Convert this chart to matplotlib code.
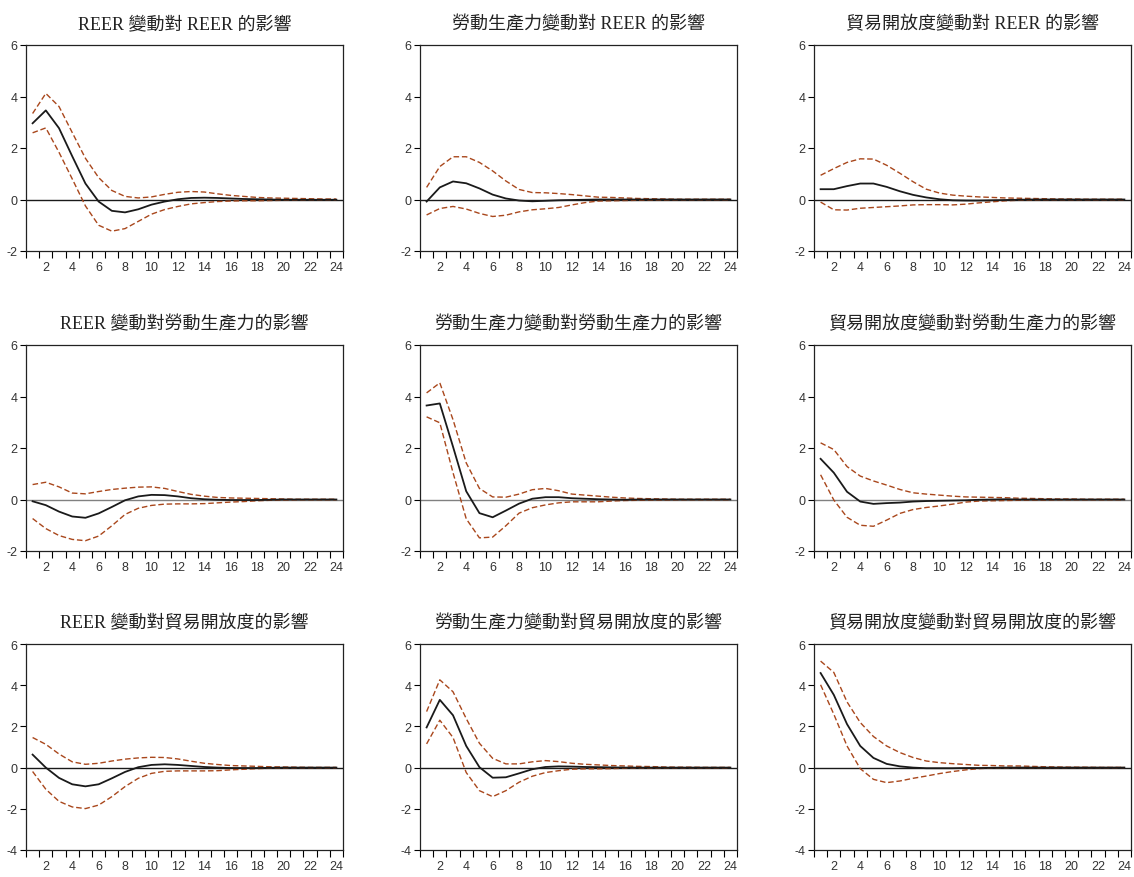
import matplotlib
matplotlib.use("Agg")
import matplotlib.pyplot as plt
import numpy as np

periods = list(range(1, 25))

titles = [
    "REER 變動對 REER 的影響", "勞動生產力變動對 REER 的影響", "貿易開放度變動對 REER 的影響",
    "REER 變動對勞動生產力的影響", "勞動生產力變動對勞動生產力的影響", "貿易開放度變動對勞動生產力的影響",
    "REER 變動對貿易開放度的影響", "勞動生產力變動對貿易開放度的影響", "貿易開放度變動對貿易開放度的影響",
]

# Panel 1: REER -> REER
p1_mid = [2.96, 3.46, 2.77, 1.68, 0.62, -0.08, -0.44, -0.50, -0.38, -0.20, -0.08, 0.01,
          0.06, 0.07, 0.06, 0.04, 0.02, 0.01, 0.0, -0.01, -0.01, -0.01, -0.01, -0.01]
p1_up = [3.34, 4.12, 3.61, 2.60, 1.60, 0.85, 0.35, 0.12, 0.06, 0.10, 0.20, 0.28,
         0.31, 0.29, 0.22, 0.16, 0.12, 0.08, 0.06, 0.05, 0.04, 0.03, 0.02, 0.02]
p1_lo = [2.59, 2.78, 1.83, 0.80, -0.25, -1.00, -1.23, -1.13, -0.85, -0.57, -0.39, -0.27,
         -0.17, -0.12, -0.08, -0.06, -0.05, -0.05, -0.04, -0.03, -0.03, -0.02, -0.02, -0.02]

# Panel 2: 勞動生產力 -> REER
p2_mid = [-0.08, 0.47, 0.70, 0.63, 0.43, 0.19, 0.04, -0.04, -0.07, -0.05, -0.03, -0.02,
          -0.01, 0.0, 0.0, 0.0, 0.0, 0.0, 0.0, 0.0, 0.0, 0.0, 0.0, 0.0]
p2_up = [0.47, 1.28, 1.66, 1.66, 1.44, 1.11, 0.72, 0.39, 0.27, 0.26, 0.23, 0.19,
         0.14, 0.09, 0.08, 0.06, 0.04, 0.03, 0.02, 0.01, 0.01, 0.01, 0.01, 0.01]
p2_lo = [-0.60, -0.35, -0.27, -0.37, -0.54, -0.66, -0.61, -0.48, -0.40, -0.36, -0.31, -0.21,
         -0.12, -0.06, -0.05, -0.04, -0.03, -0.02, -0.02, -0.01, -0.01, -0.01, -0.01, -0.01]

# Panel 3: 貿易開放度 -> REER
p3_mid = [0.40, 0.40, 0.52, 0.62, 0.62, 0.49, 0.32, 0.18, 0.08, 0.01, -0.03, -0.04,
          -0.04, -0.03, -0.02, -0.01, 0.0, 0.0, 0.0, 0.0, 0.0, 0.0, 0.0, 0.0]
p3_up = [0.94, 1.20, 1.44, 1.58, 1.57, 1.33, 1.02, 0.69, 0.40, 0.25, 0.17, 0.13,
         0.10, 0.08, 0.06, 0.05, 0.04, 0.03, 0.02, 0.02, 0.01, 0.01, 0.01, 0.01]
p3_lo = [-0.10, -0.40, -0.41, -0.34, -0.31, -0.28, -0.25, -0.21, -0.20, -0.20, -0.21, -0.18,
         -0.13, -0.09, -0.05, -0.03, -0.02, -0.01, -0.01, -0.01, -0.01, -0.01, -0.01, -0.01]

# Panel 4: REER -> 勞動生產力
p4_mid = [-0.07, -0.22, -0.47, -0.66, -0.71, -0.54, -0.29, -0.03, 0.12, 0.18, 0.17, 0.12,
          0.05, 0.01, -0.01, -0.02, -0.02, -0.02, -0.01, 0.0, 0.0, 0.0, 0.0, 0.0]
p4_up = [0.58, 0.67, 0.49, 0.25, 0.22, 0.31, 0.39, 0.44, 0.48, 0.49, 0.43, 0.31,
         0.20, 0.13, 0.08, 0.06, 0.05, 0.04, 0.03, 0.02, 0.01, 0.01, 0.01, 0.01]
p4_lo = [-0.74, -1.13, -1.40, -1.55, -1.60, -1.42, -1.02, -0.58, -0.34, -0.23, -0.18, -0.17,
         -0.17, -0.16, -0.13, -0.10, -0.08, -0.05, -0.03, -0.02, -0.01, -0.01, -0.01, -0.01]

# Panel 5: 勞動生產力 -> 勞動生產力
p5_mid = [3.65, 3.73, 2.05, 0.32, -0.53, -0.69, -0.43, -0.16, 0.03, 0.09, 0.09, 0.05,
          0.03, 0.01, 0.0, -0.01, 0.0, 0.0, 0.0, 0.0, 0.0, 0.0, 0.0, 0.0]
p5_up = [4.14, 4.53, 3.10, 1.42, 0.43, 0.10, 0.09, 0.21, 0.38, 0.43, 0.34, 0.21,
         0.17, 0.13, 0.09, 0.06, 0.04, 0.03, 0.02, 0.01, 0.01, 0.01, 0.01, 0.01]
p5_lo = [3.21, 2.98, 1.04, -0.75, -1.49, -1.46, -1.02, -0.53, -0.32, -0.21, -0.13, -0.09,
         -0.09, -0.09, -0.06, -0.04, -0.03, -0.02, -0.02, -0.01, -0.01, -0.01, -0.01, -0.01]

# Panel 6: 貿易開放度 -> 勞動生產力
p6_mid = [1.58, 1.04, 0.30, -0.08, -0.17, -0.14, -0.12, -0.08, -0.06, -0.05, -0.04, -0.03,
          -0.01, 0.0, 0.01, 0.0, 0.0, 0.0, 0.0, 0.0, 0.0, 0.0, 0.0, 0.0]
p6_up = [2.20, 1.94, 1.28, 0.91, 0.72, 0.56, 0.39, 0.26, 0.21, 0.17, 0.13, 0.10,
         0.09, 0.08, 0.07, 0.05, 0.04, 0.03, 0.02, 0.02, 0.01, 0.01, 0.01, 0.01]
p6_lo = [0.96, -0.02, -0.69, -1.00, -1.04, -0.80, -0.54, -0.39, -0.31, -0.25, -0.18, -0.10,
         -0.06, -0.05, -0.04, -0.03, -0.02, -0.02, -0.01, -0.01, -0.01, -0.01, -0.01, -0.01]

# Panel 7: REER -> 貿易開放度
p7_mid = [0.63, 0.0, -0.50, -0.81, -0.91, -0.81, -0.52, -0.21, 0.02, 0.13, 0.16, 0.13,
          0.08, 0.03, 0.0, -0.02, -0.02, -0.02, -0.01, 0.0, 0.0, 0.0, 0.0, 0.0]
p7_up = [1.46, 1.13, 0.66, 0.28, 0.16, 0.21, 0.32, 0.41, 0.47, 0.50, 0.49, 0.42,
         0.31, 0.21, 0.15, 0.10, 0.08, 0.06, 0.04, 0.03, 0.02, 0.01, 0.01, 0.01]
p7_lo = [-0.19, -1.05, -1.64, -1.91, -1.99, -1.82, -1.41, -0.92, -0.52, -0.28, -0.18, -0.16,
         -0.16, -0.16, -0.15, -0.11, -0.08, -0.05, -0.03, -0.02, -0.01, -0.01, -0.01, -0.01]

# Panel 8: 勞動生產力 -> 貿易開放度
p8_mid = [1.95, 3.29, 2.54, 1.05, 0.02, -0.49, -0.47, -0.28, -0.08, 0.03, 0.06, 0.05,
          0.03, 0.02, 0.01, 0.0, 0.0, 0.0, 0.0, 0.0, 0.0, 0.0, 0.0, 0.0]
p8_up = [2.72, 4.26, 3.68, 2.38, 1.18, 0.45, 0.18, 0.18, 0.28, 0.34, 0.29, 0.21,
         0.16, 0.13, 0.10, 0.08, 0.06, 0.05, 0.03, 0.02, 0.02, 0.01, 0.01, 0.01]
p8_lo = [1.15, 2.30, 1.46, -0.24, -1.12, -1.41, -1.12, -0.71, -0.42, -0.24, -0.15, -0.08,
         -0.06, -0.06, -0.05, -0.03, -0.02, -0.02, -0.01, -0.01, -0.01, -0.01, -0.01, -0.01]

# Panel 9: 貿易開放度 -> 貿易開放度
p9_mid = [4.59, 3.53, 2.11, 1.05, 0.47, 0.18, 0.06, 0.0, -0.03, -0.03, -0.03, -0.02,
          -0.02, -0.01, 0.0, 0.0, 0.0, 0.0, 0.0, 0.0, 0.0, 0.0, 0.0, 0.0]
p9_up = [5.17, 4.62, 3.19, 2.19, 1.51, 1.05, 0.73, 0.49, 0.32, 0.24, 0.19, 0.15,
         0.11, 0.10, 0.08, 0.08, 0.06, 0.04, 0.03, 0.02, 0.02, 0.01, 0.01, 0.01]
p9_lo = [4.02, 2.59, 1.05, -0.05, -0.57, -0.73, -0.65, -0.52, -0.41, -0.29, -0.19, -0.11,
         -0.05, -0.02, -0.01, 0.0, 0.0, 0.0, 0.0, 0.0, 0.0, 0.0, 0.0, 0.0]

mids = [p1_mid, p2_mid, p3_mid, p4_mid, p5_mid, p6_mid, p7_mid, p8_mid, p9_mid]
ups = [p1_up, p2_up, p3_up, p4_up, p5_up, p6_up, p7_up, p8_up, p9_up]
los = [p1_lo, p2_lo, p3_lo, p4_lo, p5_lo, p6_lo, p7_lo, p8_lo, p9_lo]

row_ylims = [(-2, 6), (-2, 6), (-4, 6)]
row_yticks = [[-2, 0, 2, 4, 6], [-2, 0, 2, 4, 6], [-4, -2, 0, 2, 4, 6]]
zero_colors = ["#1a1a1a", "#808080", "#1a1a1a"]

W, H = 1134, 878
fig = plt.figure(figsize=(W / 100, H / 100), dpi=100)

col_lr = [(26, 343), (420, 737), (814, 1131)]
row_tb = [(46, 252), (346, 552), (645, 851)]

title_font = ["Liberation Serif", "Noto Sans CJK TC"]
dash_color = "#a9471c"

for i in range(9):
    r, c = divmod(i, 3)
    l, rr = col_lr[c]
    t, b = row_tb[r]
    ax = fig.add_axes([l / W, 1 - b / H, (rr - l) / W, (b - t) / H])
    ax.axhline(0, color=zero_colors[r], lw=1.0, zorder=1)
    ax.plot(periods, ups[i], color=dash_color, lw=1.0, ls=(0, (4, 2)), zorder=2)
    ax.plot(periods, los[i], color=dash_color, lw=1.0, ls=(0, (4, 2)), zorder=2)
    ax.plot(periods, mids[i], color="#1a1a1a", lw=1.3, zorder=3)
    ax.set_xlim(0.5, 24.5)
    ax.set_ylim(*row_ylims[r])
    ax.set_yticks(row_yticks[r])
    ax.set_yticklabels([str(v) for v in row_yticks[r]], fontsize=9, family="Liberation Sans", color="#333333")
    ax.set_xticks(np.arange(0.5, 25, 1.0))
    ax.set_xticklabels([])
    ax.set_xticks(list(range(2, 25, 2)), minor=True)
    ax.set_xticklabels([str(v) for v in range(2, 25, 2)], minor=True, fontsize=9,
                       family="Liberation Sans", color="#333333")
    ax.tick_params(axis="x", which="major", direction="out", length=5, width=0.8)
    ax.tick_params(axis="x", which="minor", length=0, pad=7)
    ax.tick_params(axis="y", direction="out", length=4, width=0.8, pad=2)
    for s in ax.spines.values():
        s.set_linewidth(0.9)
        s.set_color("#222222")
    ax.set_title(titles[i], family=title_font, fontsize=13, fontweight="light", pad=12, color="#222222")

fig.savefig("out.png", dpi=100)
